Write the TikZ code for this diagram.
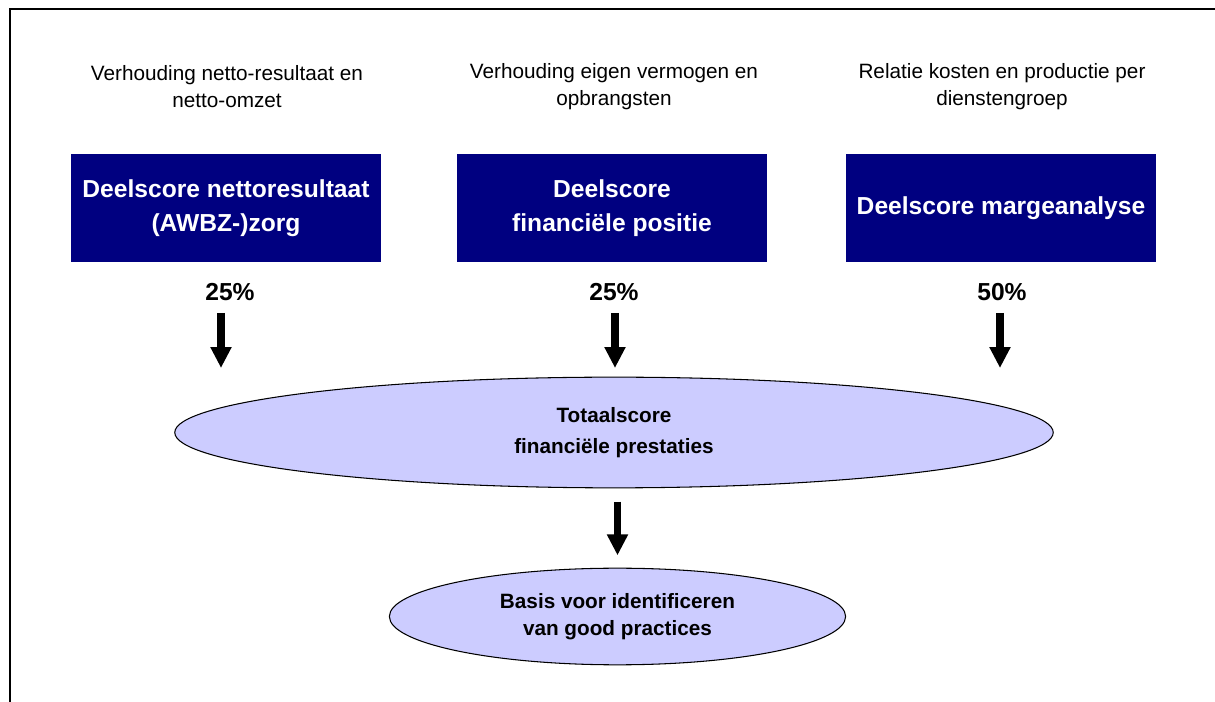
\documentclass[tikz,border=0pt]{standalone}
\usepackage{fontspec}
\setmainfont{Liberation Sans}
\usetikzlibrary{shapes.geometric}
\usetikzlibrary{arrows.meta}
\usetikzlibrary{positioning}
\definecolor{deelblauw}{HTML}{000080}
\definecolor{lila}{HTML}{CCCCFF}
\tikzset{uitleg/.style={align=center, inner sep=0pt,
font=\fontsize{11.8}{15.3}\selectfont},
deel/.style={rectangle, fill=deelblauw, draw=deelblauw, text=white, align=center,
minimum width=175.8pt, minimum height=61.2pt, inner sep=0pt,
font=\fontsize{14}{19.3}\selectfont\bfseries},
weging/.style={inner sep=0pt, font=\fontsize{14}{14}\selectfont\bfseries},
totaal/.style={ellipse, fill=lila, draw=black, line width=0.6pt, align=center,
inner sep=0pt, font=\fontsize{11.8}{17.5}\selectfont\bfseries},
pijl/.style={line width=4pt, -{Triangle[width=11.3pt,length=11.9pt]}},
kader/.style={line width=1.1pt}}

\begin{document}
\begin{tikzpicture}[x=0.02cm, y=-0.02cm]
  \useasboundingbox (0,0) rectangle (1215,702);
  % frame
  \draw [kader] (10,702) -- (10,9) -- (1215,9);

  \node (u1) [uitleg] at (227,86.5) {Verhouding netto-resultaat en\\netto-omzet};
  \node (u2) [uitleg] at (614,86.5) {Verhouding eigen vermogen en\\opbrangsten};
  \node (u3) [uitleg] at (1002,86.5) {Relatie kosten en productie per\\dienstengroep};

  \node (d1) [deel] at (226,208) {Deelscore nettoresultaat\\(AWBZ-)zorg};
  \node (d2) [deel] at (612,208) {Deelscore\\financi\"ele positie};
  \node (d3) [deel] at (1001,208) {Deelscore margeanalyse};

  \node (w1) [weging] at (230,292) {25\%};
  \node (w2) [weging] at (614,292) {25\%};
  \node (w3) [weging] at (1002,292) {50\%};

  \node (tot) [totaal, minimum width=500pt, minimum height=63pt] at (614,432.5)
    {Totaalscore\\financi\"ele prestaties};
  \node (basis) [totaal, minimum width=259.7pt, minimum height=55pt,
    font=\fontsize{11.8}{15.6}\selectfont\bfseries] at (617.5,616.5)
    {Basis voor identificeren\\van good practices};

  \coordinate (a1) at (221,313);
  \coordinate (a2) at (615,313);
  \coordinate (a3) at (1000,313);
  \coordinate (b1) at (221,368);
  \coordinate (b2) at (615,368);
  \coordinate (b3) at (1000,368);
  \draw [pijl] (a1) -- (b1);
  \draw [pijl] (a2) -- (b2);
  \draw [pijl] (a3) -- (b3);
  \draw [pijl, shorten <=7.5pt, shorten >=7pt] (tot.south -| basis.north) -- (basis.north);
\end{tikzpicture}
\end{document}
